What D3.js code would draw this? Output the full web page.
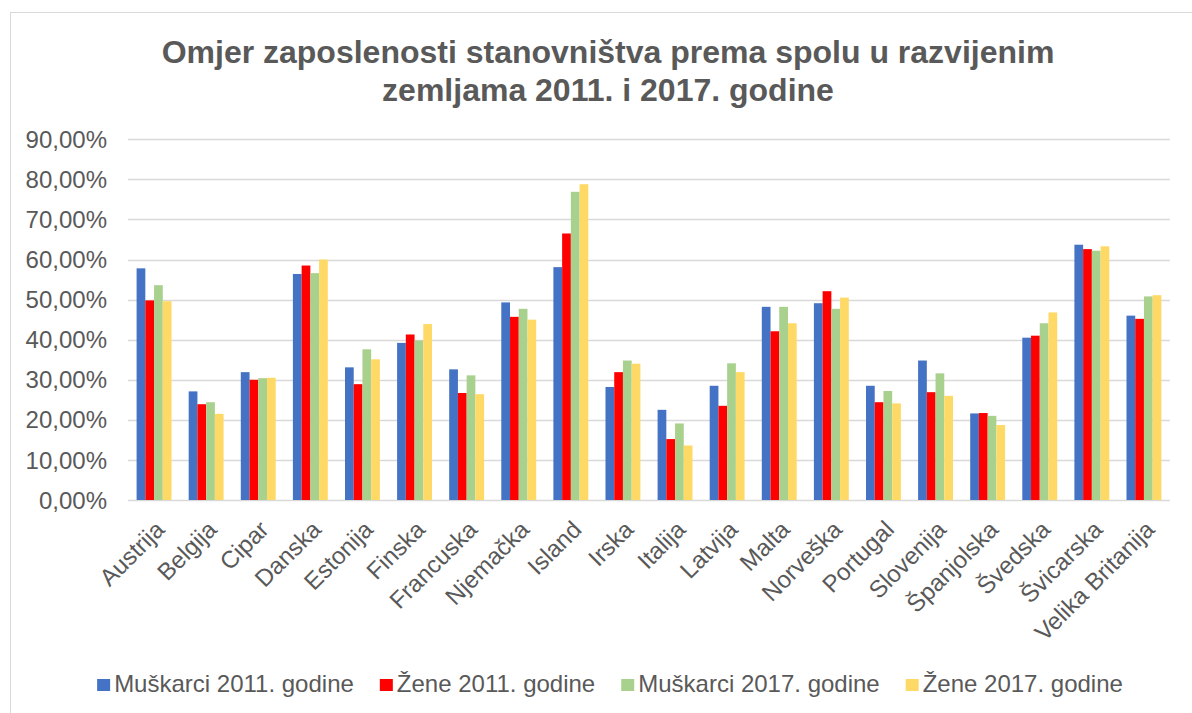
<!DOCTYPE html>
<html>
<head>
<meta charset="utf-8">
<script src="https://cdn.jsdelivr.net/npm/d3@7"></script>
<style>
  body { margin: 0; background: #fff; }
  text { font-family: "Liberation Sans", Arial, sans-serif; fill: #595959; }
</style>
</head>
<body>
<div class="content"></div>
<script>
// data (percent)
var countries = ["Austrija", "Belgija", "Cipar", "Danska", "Estonija", "Finska", "Francuska",
    "Njemačka", "Island", "Irska", "Italija", "Latvija", "Malta", "Norveška", "Portugal",
    "Slovenija", "Španjolska", "Švedska", "Švicarska", "Velika Britanija"];
var muskarci2011 = [57.8, 27.1, 31.9, 56.4, 33.1, 39.2, 32.6, 49.3, 58.1, 28.2, 22.5, 28.5, 48.2, 49.1, 28.5, 34.8, 21.6, 40.5, 63.7, 46.0];
var zene2011     = [49.8, 23.9, 30.0, 58.5, 28.9, 41.3, 26.7, 45.7, 66.5, 31.9, 15.2, 23.5, 42.1, 52.1, 24.4, 26.9, 21.7, 41.0, 62.6, 45.2];
var muskarci2017 = [53.6, 24.4, 30.4, 56.6, 37.6, 39.8, 31.1, 47.7, 76.9, 34.8, 19.1, 34.1, 48.2, 47.7, 27.2, 31.6, 21.0, 44.1, 62.2, 50.8];
var zene2017     = [49.6, 21.5, 30.5, 60.0, 35.1, 43.9, 26.4, 45.0, 78.8, 34.0, 13.6, 31.9, 44.1, 50.5, 24.1, 26.0, 18.7, 46.8, 63.3, 51.1];
var seriesNames = ["Muškarci 2011. godine", "Žene 2011. godine", "Muškarci 2017. godine", "Žene 2017. godine"];
var colors = ["#4472C4", "#FF0000", "#A9D18E", "#FFD966"];
var yTicks = [0, 10, 20, 30, 40, 50, 60, 70, 80, 90];

var W = 1192, H = 713;
var svg = d3.select(".content")
    .append("svg")
    .attr("width", W)
    .attr("height", H);

// chart area border
svg.append("rect")
    .attr("x", 10.5).attr("y", 12.5)
    .attr("width", W + 20).attr("height", H + 20)
    .attr("fill", "none")
    .attr("stroke", "#d9d9d9");

// title
var title = svg.append("text")
    .attr("text-anchor", "middle")
    .style("font-size", "32px")
    .style("font-weight", "bold");
title.append("tspan").attr("x", 608).attr("y", 63).text("Omjer zaposlenosti stanovništva prema spolu u razvijenim");
title.append("tspan").attr("x", 608).attr("y", 101).text("zemljama 2011. i 2017. godine");

var x = d3.scaleBand()
    .domain(countries)
    .range([128, 1170])
    .paddingInner(0.33)
    .paddingOuter(0.165);

var xs = d3.scaleBand()
    .domain(d3.range(4))
    .range([0, x.bandwidth()]);

var y = d3.scaleLinear()
    .domain([0, 90])
    .range([500, 139.3]);

// gridlines
svg.append("g")
    .selectAll("line")
    .data(yTicks)
    .enter().append("line")
    .attr("x1", 128).attr("x2", 1170)
    .attr("y1", function(d) { return Math.round(y(d)) + 0.5; })
    .attr("y2", function(d) { return Math.round(y(d)) + 0.5; })
    .attr("stroke", "#d9d9d9")
    .attr("stroke-width", 1.3);

// y labels
svg.append("g")
    .selectAll("text")
    .data(yTicks)
    .enter().append("text")
    .attr("x", 107)
    .attr("y", function(d) { return y(d); })
    .attr("dy", "0.36em")
    .attr("text-anchor", "end")
    .style("font-size", "24px")
    .text(function(d) { return d3.format(".2f")(d).replace(".", ",") + "%"; });

// bars
var allSeries = [muskarci2011, zene2011, muskarci2017, zene2017];
var groups = svg.append("g")
    .selectAll("g")
    .data(countries)
    .enter().append("g")
    .attr("transform", function(d) { return "translate(" + x(d) + ",0)"; });

groups.selectAll("rect")
    .data(function(d, i) { return allSeries.map(function(s, k) { return {k: k, v: s[i]}; }); })
    .enter().append("rect")
    .attr("x", function(d) { return xs(d.k); })
    .attr("width", xs.bandwidth())
    .attr("y", function(d) { return y(d.v); })
    .attr("height", function(d) { return y(0) - y(d.v); })
    .attr("fill", function(d) { return colors[d.k]; });

// x labels rotated
svg.append("g")
    .selectAll("text")
    .data(countries)
    .enter().append("text")
    .attr("transform", function(d) {
        return "translate(" + (x(d) + x.bandwidth() / 2 + 12) + ",531) rotate(-45)";
    })
    .attr("text-anchor", "end")
    .style("font-size", "24px")
    .text(function(d) { return d; });

// legend
var legend = svg.append("g");
var items = legend.selectAll("g")
    .data(seriesNames)
    .enter().append("g");
items.append("rect")
    .attr("width", 13).attr("height", 12)
    .attr("y", 679)
    .attr("fill", function(d, i) { return colors[i]; });
items.append("text")
    .attr("x", 17)
    .attr("y", 692)
    .style("font-size", "24px")
    .text(function(d) { return d; });

var widths = [];
items.select("text").each(function() { widths.push(this.getComputedTextLength()); });
var gap = 26;
var total = d3.sum(widths) + widths.length * 17 + (widths.length - 1) * gap;
var cx = 96 + (1124 - 96) / 2 - total / 2;
items.attr("transform", function(d, i) {
    var off = cx;
    for (var j = 0; j < i; ++j) off += widths[j] + 17 + gap;
    return "translate(" + off + ",0)";
});
</script>
</body>
</html>
